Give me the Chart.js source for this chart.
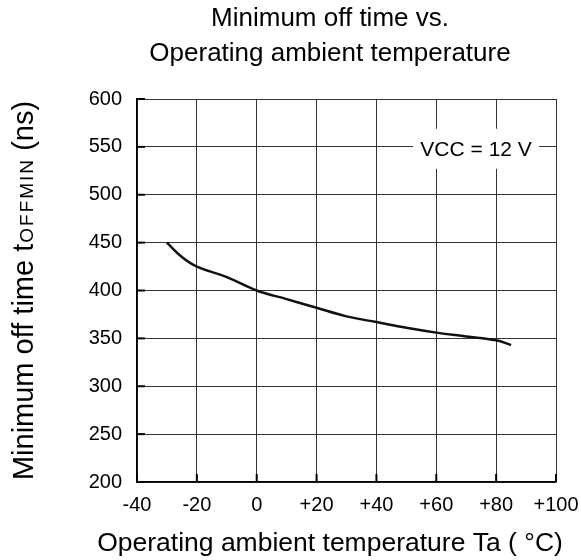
<!DOCTYPE html>
<html>
<head>
<meta charset="utf-8">
<script src="https://cdn.jsdelivr.net/npm/chart.js@4/dist/chart.umd.min.js"></script>
<style>
  html, body { margin: 0; padding: 0; background: #fff; }
  #wrap { width: 581px; height: 560px; }
</style>
</head>
<body>
<div id="wrap"><canvas id="chart" width="581" height="560"></canvas></div>
<script>
// values
const temps = [-30, -25, -20, -10, 0, 10, 20, 30, 40, 50, 60, 70, 80, 85];
const offTimes = [450, 435, 425, 414, 400, 391, 382, 373, 367, 361, 356, 352, 348, 343];
const xTicks = [-40, -20, 0, 20, 40, 60, 80, 100];
const yTicks = [200, 250, 300, 350, 400, 450, 500, 550, 600];
const titleLines = ['Minimum off time vs.', 'Operating ambient temperature'];
const xTitle = 'Operating ambient temperature Ta ( °C)';
const yTitleParts = ['Minimum off time t', 'OFFMIN', ' (ns)'];
const noteText = 'VCC = 12 V';

const FONT = "'Liberation Sans', Arial, Helvetica, sans-serif";
const TEXT_CENTER_X = 330;

// titles drawn by hand: the figure centres them left of the plot centre,
// and the y title needs the small OFFMIN subscript
const titlesPlugin = {
    id: 'titles',
    afterDraw(chart) {
        const { ctx, chartArea } = chart;
        ctx.save();
        ctx.fillStyle = '#000';
        ctx.textAlign = 'center';
        ctx.textBaseline = 'middle';
        ctx.font = '26px ' + FONT;
        ctx.fillText(titleLines[0], TEXT_CENTER_X, 19);
        ctx.fillText(titleLines[1], TEXT_CENTER_X, 54);
        ctx.font = '26.5px ' + FONT;
        ctx.fillText(xTitle, TEXT_CENTER_X, 544);

        const big = '29px ' + FONT;
        const small = '19px ' + FONT;
        const subSpacing = 2;
        ctx.font = big;
        const w0 = ctx.measureText(yTitleParts[0]).width;
        const w2 = ctx.measureText(yTitleParts[2]).width;
        ctx.font = small;
        const w1 = ctx.measureText(yTitleParts[1]).width + subSpacing * yTitleParts[1].length;
        const total = w0 + w1 + w2;
        ctx.translate(33, (chartArea.top + chartArea.bottom) / 2);
        ctx.rotate(-Math.PI / 2);
        ctx.textAlign = 'left';
        ctx.textBaseline = 'alphabetic';
        let x = -total / 2;
        ctx.font = big;
        ctx.fillText(yTitleParts[0], x, 0);
        x += w0 + 1;
        ctx.font = small;
        for (const ch of yTitleParts[1]) {
            ctx.fillText(ch, x, 0);
            x += ctx.measureText(ch).width + subSpacing;
        }
        x = -total / 2 + w0 + w1;
        ctx.font = big;
        ctx.fillText(yTitleParts[2], x, 0);
        ctx.restore();
    },
};

// inward tick marks + the VCC label box
const extrasPlugin = {
    id: 'extras',
    afterDatasetsDraw(chart) {
        const { ctx, chartArea, scales } = chart;
        ctx.save();
        ctx.strokeStyle = '#000';
        ctx.lineWidth = 2;
        yTicks.forEach((v) => {
            const y = scales.y.getPixelForValue(v);
            ctx.beginPath();
            ctx.moveTo(chartArea.left, y);
            ctx.lineTo(chartArea.left + 8, y);
            ctx.stroke();
        });
        xTicks.forEach((v) => {
            const x = scales.x.getPixelForValue(v);
            ctx.beginPath();
            ctx.moveTo(x, chartArea.bottom);
            ctx.lineTo(x, chartArea.bottom - 8);
            ctx.stroke();
        });

        const cx = scales.x.getPixelForValue(73.3);
        const cy = scales.y.getPixelForValue(548);
        ctx.fillStyle = '#fff';
        ctx.fillRect(cx - 63, cy - 20, 126, 40);
        ctx.fillStyle = '#000';
        ctx.font = '21px ' + FONT;
        ctx.textAlign = 'center';
        ctx.textBaseline = 'middle';
        ctx.fillText(noteText, cx, cy + 1);
        ctx.restore();
    },
};

const ctx = document.getElementById('chart').getContext('2d');
new Chart(ctx, {
    type: 'line',
    data: {
        datasets: [
            {
                data: temps.map((t, i) => ({ x: t, y: offTimes[i] })),
                borderColor: '#111',
                borderWidth: 2.5,
                pointRadius: 0,
                tension: 0.4,
                fill: false,
            },
        ],
    },
    options: {
        responsive: false,
        animation: false,
        layout: { padding: { left: 0, right: 25, top: 99, bottom: 0 } },
        plugins: {
            legend: { display: false },
            tooltip: { enabled: false },
            title: { display: false },
        },
        scales: {
            x: {
                type: 'linear',
                min: -40,
                max: 100,
                afterBuildTicks: (s) => {
                    s.ticks = xTicks.map((v) => ({ value: v }));
                },
                afterFit: (s) => {
                    s.height = 78;
                    s.paddingLeft = 0;
                    s.paddingRight = 0;
                },
                ticks: {
                    color: '#000',
                    font: { family: FONT, size: 20 },
                    padding: 11,
                    callback: (v) => (v > 0 ? '+' + v : String(v)),
                },
                grid: { color: '#333', lineWidth: 1, drawTicks: false },
                border: { color: '#000', width: 1.5 },
            },
            y: {
                min: 200,
                max: 600,
                afterBuildTicks: (s) => {
                    s.ticks = yTicks.map((v) => ({ value: v }));
                },
                afterFit: (s) => {
                    s.width = 137;
                    s.paddingTop = 0;
                    s.paddingBottom = 0;
                },
                ticks: {
                    color: '#000',
                    font: { family: FONT, size: 20 },
                    padding: 15,
                },
                grid: { color: '#333', lineWidth: 1, drawTicks: false },
                border: { color: '#000', width: 1.5 },
            },
        },
    },
    plugins: [titlesPlugin, extrasPlugin],
});
</script>
</body>
</html>
